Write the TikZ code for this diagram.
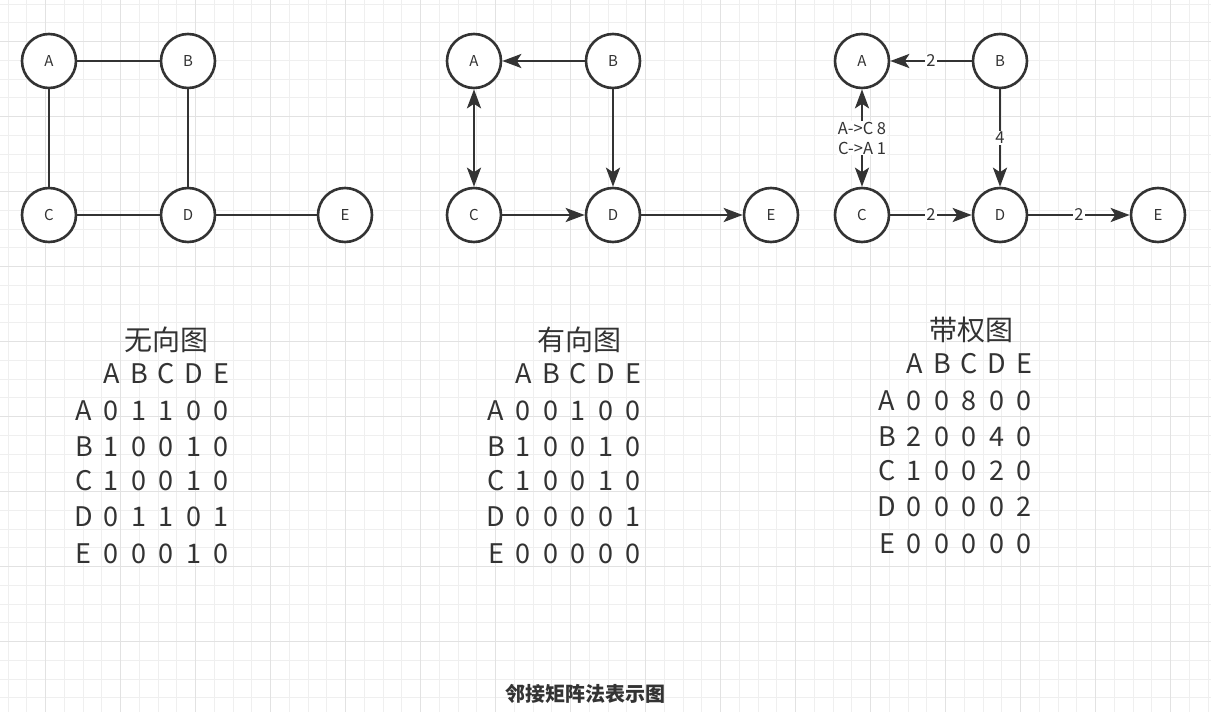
\documentclass[tikz,border=0pt]{standalone}
\usepackage{fontspec}
\setmainfont{Noto Sans CJK SC}
\usetikzlibrary{arrows.meta}
\definecolor{ink}{HTML}{333333}
\definecolor{gridlo}{HTML}{EFEFEF}
\definecolor{gridhi}{HTML}{E2E2E2}
\newcommand{\ArwTip}{Stealth[length=19,width=14,inset=4.5]}
\newlength{\CellW}\setlength{\CellW}{27.5pt}
\newcommand{\MRow}[6]{\makebox[\CellW]{#1}\makebox[\CellW]{#2}\makebox[\CellW]{#3}\makebox[\CellW]{#4}\makebox[\CellW]{#5}\makebox[\CellW]{#6}}
\tikzset{vtx/.style={circle,draw=ink,fill=white,line width=2.6pt,minimum size=54pt,inner sep=0pt,text=ink,font=\fontsize{15}{18}\selectfont}}
\tikzset{edge/.style={draw=ink,line width=2.7pt}}
\tikzset{->-/.style={edge,-{\ArwTip}}}
\tikzset{<->-/.style={edge,{\ArwTip}-{\ArwTip}}}
\tikzset{wlab/.style={fill=white,inner sep=1pt,text=ink,align=center,font=\fontsize{16.5}{20}\selectfont}}
\tikzset{mtitle/.style={anchor=base,inner sep=0pt,text=ink,font=\fontsize{28}{34}\selectfont}}
\tikzset{mline/.style={anchor=base west,inner sep=0pt,text=ink,font=\fontsize{27}{32}\selectfont}}

\begin{document}
\begin{tikzpicture}[x=1pt,y=-1pt]
\useasboundingbox[fill=white](0,0)rectangle(1211,712);
% background grid
\foreach \i in {0,...,64}\draw[gridlo,line width=1pt]({8.2+18.75*\i},0)--({8.2+18.75*\i},712);
\foreach \i in {0,...,37}\draw[gridlo,line width=1pt](0,{4.2+18.75*\i})--(1211,{4.2+18.75*\i});
\foreach \i in {0,...,15}\draw[gridhi,line width=1pt]({45.7+75*\i},0)--({45.7+75*\i},712);
\foreach \i in {0,...,8}\draw[gridhi,line width=1pt](0,{41.7+75*\i})--(1211,{41.7+75*\i});
% undirected
\node[vtx](ua)at(49,61){A};\node[vtx](ub)at(188,61){B};\node[vtx](uc)at(49,215){C};\node[vtx](ud)at(188,215){D};\node[vtx](ue)at(345,215){E};
\draw[edge](ua)--(ub);\draw[edge](ua)--(uc);\draw[edge](ub)--(ud);\draw[edge](uc)--(ud);\draw[edge](ud)--(ue);
% directed
\node[vtx](da)at(474,61){A};\node[vtx](db)at(613,61){B};\node[vtx](dc)at(474,215){C};\node[vtx](dd)at(613,215){D};\node[vtx](de)at(771,215){E};
\draw[->-](db)--(da);\draw[<->-](da)--(dc);\draw[->-](db)--(dd);\draw[->-](dc)--(dd);\draw[->-](dd)--(de);
% weighted
\node[vtx](wa)at(862,61){A};\node[vtx](wb)at(1000,61){B};\node[vtx](wc)at(862,215){C};\node[vtx](wd)at(1000,215){D};\node[vtx](we)at(1158,215){E};
\draw[->-](wb)--node[wlab](wba){2}(wa);\draw[<->-](wa)--node[wlab](wac){A->C 8\\C->A 1}(wc);\draw[->-](wb)--node[wlab](wbd){4}(wd);
\draw[->-](wc)--node[wlab](wcd){2}(wd);\draw[->-](wd)--node[wlab](wde){2}(we);
% matrices
\node[mtitle](ut)at(166.5,350){无向图};
\node[mline](u0)at(70,383){\MRow{}{A}{B}{C}{D}{E}};
\node[mline](u1)at(70,420){\MRow{A}{0}{1}{1}{0}{0}};
\node[mline](u2)at(70,456.5){\MRow{B}{1}{0}{0}{1}{0}};
\node[mline](u3)at(70,490.5){\MRow{C}{1}{0}{0}{1}{0}};
\node[mline](u4)at(70,526.5){\MRow{D}{0}{1}{1}{0}{1}};
\node[mline](u5)at(70,563){\MRow{E}{0}{0}{0}{1}{0}};
\node[mtitle](dt)at(579.5,350){有向图};
\node[mline](d0)at(482,383){\MRow{}{A}{B}{C}{D}{E}};
\node[mline](d1)at(482,420){\MRow{A}{0}{0}{1}{0}{0}};
\node[mline](d2)at(482,456.5){\MRow{B}{1}{0}{0}{1}{0}};
\node[mline](d3)at(482,490.5){\MRow{C}{1}{0}{0}{1}{0}};
\node[mline](d4)at(482,526.5){\MRow{D}{0}{0}{0}{0}{1}};
\node[mline](d5)at(482,563){\MRow{E}{0}{0}{0}{0}{0}};
\node[mtitle](wt)at(971.5,340){带权图};
\node[mline](w0)at(873,373){\MRow{}{A}{B}{C}{D}{E}};
\node[mline](w1)at(873,410){\MRow{A}{0}{0}{8}{0}{0}};
\node[mline](w2)at(873,446.5){\MRow{B}{2}{0}{0}{4}{0}};
\node[mline](w3)at(873,480.5){\MRow{C}{1}{0}{0}{2}{0}};
\node[mline](w4)at(873,516.5){\MRow{D}{0}{0}{0}{0}{2}};
\node[mline](w5)at(873,553){\MRow{E}{0}{0}{0}{0}{0}};
\node[anchor=base,inner sep=0pt,text=ink,font=\fontsize{20}{24}\selectfont\bfseries](cap)at(585.5,701){邻接矩阵法表示图};
\end{tikzpicture}
\end{document}
